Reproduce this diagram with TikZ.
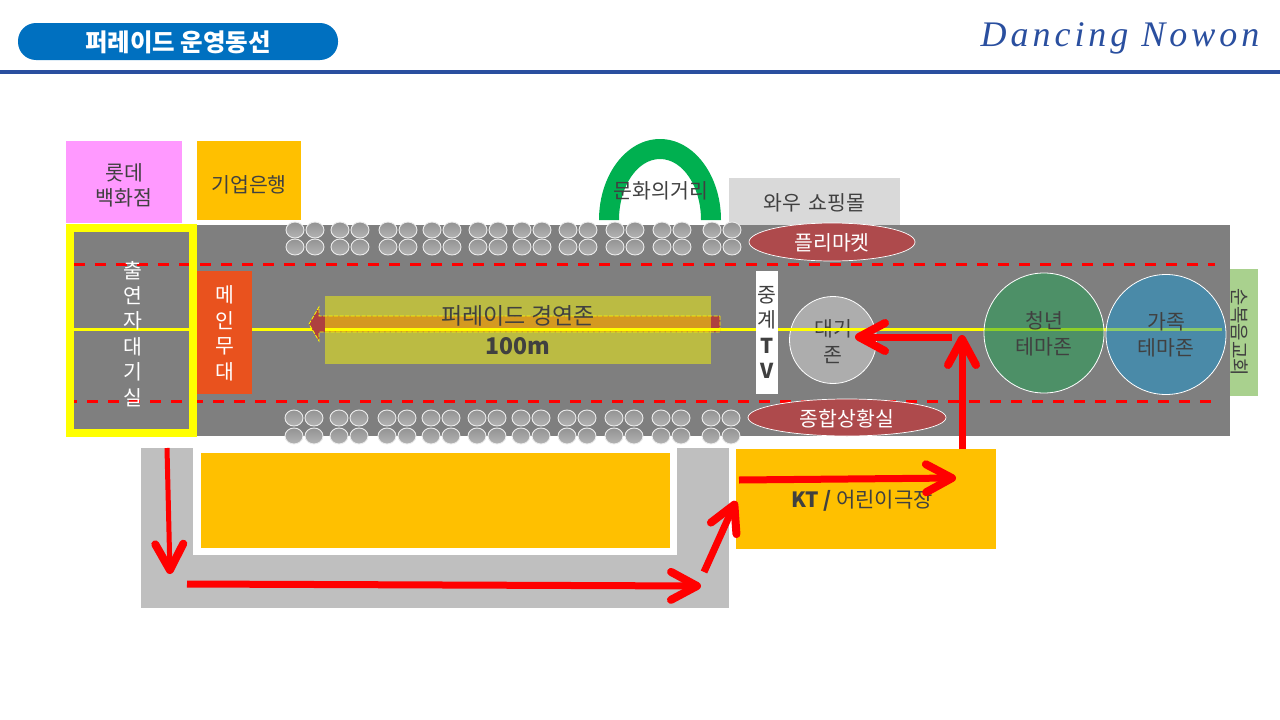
\documentclass[tikz,border=0pt]{standalone}
\usepackage{fontspec}
\setmainfont{Noto Sans CJK KR}
\newfontfamily\signfont[LetterSpace=11]{Liberation Serif}
\usetikzlibrary{shapes.geometric,arrows.meta}
\definecolor{ruleblue}{HTML}{2A4F9F}
\definecolor{pillblue}{HTML}{0070C0}
\definecolor{roadgray}{HTML}{7F7F7F}
\definecolor{sandgray}{HTML}{BFBFBF}
\definecolor{lightgray}{HTML}{D9D9D9}
\definecolor{amber}{HTML}{FFC000}
\definecolor{pinkbox}{HTML}{FF99FF}
\definecolor{stageorange}{HTML}{E9521E}
\definecolor{archgreen}{HTML}{00B050}
\definecolor{leafgreen}{HTML}{A9D18E}
\definecolor{tentred}{HTML}{AE4A4C}
\definecolor{darkred}{HTML}{AE4040}
\definecolor{zonegreen}{HTML}{1DA151}
\definecolor{zoneblue}{HTML}{1796D2}
\definecolor{inkgray}{HTML}{404040}
\definecolor{laneyellow}{HTML}{FFFF00}
\definecolor{routered}{HTML}{FF0000}
\newcommand{\dropped}[2][3.5]{\raisebox{-#1pt}[\height][\depth]{#2}}
\tikzset{
    place/.style={rectangle, inner sep=0pt, text=inkgray, font=\fontsize{20.5}{25.4}\selectfont},
    tent/.style={ellipse, draw=white, line width=0.7pt, fill=tentred, inner sep=0pt, text=white, font=\fontsize{20.5}{25.4}\selectfont},
    zone/.style={circle, draw=white, line width=0.8pt, fill opacity=0.5, text opacity=1, inner sep=0pt, text=inkgray, font=\fontsize{20.5}{25.4}\selectfont},
    bench/.style={ellipse, draw=white!85!gray, line width=0.9pt, top color=gray!85, bottom color=gray!60, minimum width=18pt, minimum height=16pt, inner sep=0pt},
    route/.style={draw=routered, line width=7pt, -{Straight Barb[length=26pt,width=28pt,line width=8pt,round]}},
    lane/.style={draw=routered, line width=3pt, dash pattern=on 10.5pt off 10.5pt}
}
\begin{document}
\begin{tikzpicture}[x=1pt, y=-1pt]
    \useasboundingbox (0,0) rectangle (1280,720);

    \node (title) at (178,41.5) [rectangle, fill=pillblue, rounded corners=18pt, minimum width=320pt, minimum height=37pt, text=white, font=\fontsize{24.5}{28}\selectfont\bfseries] {\dropped[1]{퍼레이드 운영동선}};
    \fill [ruleblue] (0,70) rectangle (1280,74);
    \node (brand) at (1120,38.5) [text=ruleblue, inner sep=0pt, font=\fontsize{36}{44}\selectfont\signfont\itshape] {Dancing Nowon};

    \node (road) at (648,330.5) [rectangle, fill=roadgray, minimum width=1164pt, minimum height=211pt] {};

    \node (lotte) at (124,182) [place, fill=pinkbox, minimum width=116pt, minimum height=82pt] {\dropped[6]{\begin{tabular}{c} 롯데 \\ 백화점 \end{tabular}}};
    \node (bank) at (249,180.5) [place, fill=amber, minimum width=104pt, minimum height=79pt] {\dropped[4]{기업은행}};
    \node (mall) at (814.5,201.5) [place, fill=lightgray, minimum width=171pt, minimum height=47pt] {\dropped[1]{와우\hspace{3pt} 쇼핑몰}};
    \fill [archgreen] (599,220) arc[start angle=180, end angle=0, x radius=61pt, y radius=81pt] -- (701,220) arc[start angle=0, end angle=180, x radius=41pt, y radius=61pt] -- cycle;
    \node (street) at (661,191) [place] {문화의거리};
    \node (church) at (1244,332.5) [place, fill=leafgreen, minimum width=28pt, minimum height=127pt] {};
    \node (churchtext) at (1240,332.5) [place, rotate=-90, font=\fontsize{19}{24}\selectfont] {순복음교회};

    \node (waiting) at (833,340) [zone, fill=gray!60, fill opacity=0.9, minimum size=87pt] {\dropped[4.5]{\begin{tabular}{c} 대기 \\ 존 \end{tabular}}};
    \draw [laneyellow, line width=3pt] (74,329.5) -- (1222,329.5);
    \draw [lane] (74,264) -- (1215,264);
    \draw [lane] (66,401) -- (1212,401);

    \draw [laneyellow, line width=8pt] (70,227.5) rectangle (193,432.5);
    \node (greenroom) at (133,336.5) [place, text=white] {\begin{tabular}{c} 출 \\ 연 \\ 자 \\ 대 \\ 기 \\ 실 \end{tabular}};
    \node (stage) at (224.5,332.5) [place, fill=stageorange, text=white, minimum width=55pt, minimum height=123pt] {\dropped{\begin{tabular}{c} 메 \\ 인 \\ 무 \\ 대 \end{tabular}}};

    \fill [darkred] (720,316) -- (720,332) -- (319,332) -- (319,341) -- (309,324) -- (319,307) -- (319,316) -- cycle;
    \draw [laneyellow, line width=0.8pt, dash pattern=on 4pt off 1.5pt] (720,316) -- (720,332) -- (319,332) -- (319,341) -- (309,324) -- (319,307) -- (319,316) -- cycle;
    \draw [laneyellow, line width=3pt] (325,329.5) -- (720,329.5);
    \node (contest) at (518,330) [rectangle, fill=laneyellow, fill opacity=0.47, text opacity=1, text=inkgray, minimum width=386pt, minimum height=68pt, inner sep=0pt, font=\fontsize{23}{30}\selectfont] {\dropped[3]{\begin{tabular}{c} 퍼레이드 경연존 \\ \textbf{100m} \end{tabular}}};

    \foreach \bx in {295,340,388,432,478,522,568,615,662,712} {
        \node (benchA\bx) at (\bx,230) [bench] {};
        \node (benchB\bx) at (\bx+20,230) [bench] {};
        \node (benchC\bx) at (\bx,247) [bench] {};
        \node (benchD\bx) at (\bx+20,247) [bench] {};
        \node (benchE\bx) at (\bx-1,418) [bench] {};
        \node (benchF\bx) at (\bx+19,418) [bench] {};
        \node (benchG\bx) at (\bx-1,436) [bench] {};
        \node (benchH\bx) at (\bx+19,436) [bench] {};
    }

    \node (market) at (832,242) [tent, minimum width=166pt, minimum height=38pt] {\dropped[1]{플리마켓}};
    \node (control) at (847,417.5) [tent, minimum width=198pt, minimum height=37pt] {\dropped[1]{종합상황실}};
    \node (relay) at (767,332.5) [place, fill=white, minimum width=22pt, minimum height=123pt] {\dropped[3]{\begin{tabular}{@{}c@{}} 중 \\ 계 \\ \textbf{T} \\ \textbf{V} \end{tabular}}};
    \node (youth) at (1044,333) [zone, fill=zonegreen, minimum size=120pt] {\dropped{\begin{tabular}{c} 청년 \\ 테마존 \end{tabular}}};
    \node (family) at (1166,334.5) [zone, fill=zoneblue, minimum size=120pt] {\dropped[3]{\begin{tabular}{c} 가족 \\ 테마존 \end{tabular}}};

    \node (sand) at (435,528) [rectangle, fill=sandgray, minimum width=588pt, minimum height=160pt] {};
    \node (sandcut) at (435,501.5) [rectangle, fill=white, minimum width=484pt, minimum height=107pt] {};
    \node (seats) at (435.5,500.5) [rectangle, fill=amber, minimum width=469pt, minimum height=95pt] {};
    \node (theater) at (866,499) [place, fill=amber, minimum width=260pt, minimum height=100pt] {};
    \node (theatertext) at (862,501) [place, font=\fontsize{21}{26}\selectfont] {\textbf{KT /} 어린이극장};

    \coordinate (r1a) at (167,448);
    \coordinate (r1b) at (170,574);
    \coordinate (r2a) at (187,584);
    \coordinate (r2b) at (701,586);
    \coordinate (r3a) at (704,572);
    \coordinate (r3b) at (736,501);
    \coordinate (r4a) at (739,480);
    \coordinate (r4b) at (956,478);
    \coordinate (r5a) at (962,449);
    \coordinate (r5b) at (962,335);
    \coordinate (r6a) at (952,337);
    \coordinate (r6b) at (855,337);

    \draw [route, line width=5pt] (r1a) -- (r1b);
    \draw [route] (r2a) -- (r2b);
    \draw [route] (r3a) -- (r3b);
    \draw [route] (r4a) -- (r4b);
    \draw [route] (r5a) -- (r5b);
    \draw [route] (r6a) -- (r6b);
\end{tikzpicture}
\end{document}
